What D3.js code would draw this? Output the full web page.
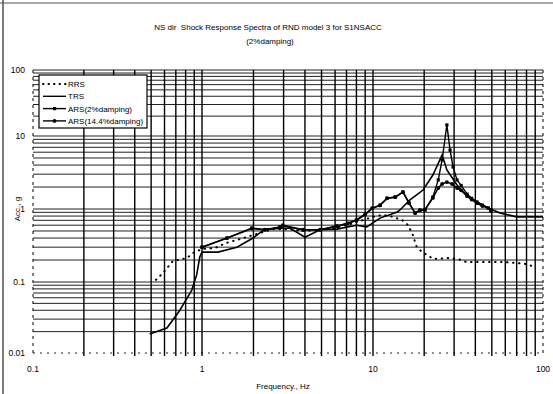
<!DOCTYPE html>
<html>
<head>
<meta charset="utf-8">
<script src="https://cdn.jsdelivr.net/npm/d3@7"></script>
<style>
  html, body { margin: 0; padding: 0; background: #fff; }
  svg { display: block; font-family: "Liberation Sans", Arial, sans-serif; }
  text { white-space: pre; }
</style>
</head>
<body>
<div id="chart"></div>
<script>
// values
const rrsFreq = [0.534, 0.588, 0.673, 0.815, 0.885, 1.0, 1.19, 1.38, 1.6, 1.83, 2.18, 2.6, 3.2, 4, 5, 6, 7, 8, 9, 10, 11.3, 12.6, 14.8, 16.1, 17.4, 17.8, 19.4, 20.8, 22.6, 27.6, 31.7, 35.3, 45.3, 57, 68.4, 78.6, 90];
const rrsAcc = [0.107, 0.133, 0.194, 0.213, 0.25, 0.283, 0.292, 0.342, 0.376, 0.414, 0.47, 0.53, 0.53, 0.5, 0.52, 0.55, 0.6, 0.66, 0.72, 0.78, 0.83, 0.8, 0.71, 0.6, 0.41, 0.32, 0.257, 0.235, 0.207, 0.213, 0.207, 0.188, 0.188, 0.188, 0.183, 0.177, 0.16];

const trsFreq = [0.49, 0.62, 0.74, 0.87, 0.93, 0.97, 1.0, 1.24, 1.6, 1.99, 2.33, 3.27, 4.0, 4.9, 6.16, 8.0, 9.2, 11.0, 13.9, 14.4, 16.5, 19.7, 22.5, 25.5, 27.2, 31.2, 35.8, 40.9, 47.6, 55.8, 70, 87, 100];
const trsAcc = [0.0185, 0.0225, 0.04, 0.077, 0.125, 0.22, 0.257, 0.257, 0.3, 0.4, 0.53, 0.55, 0.41, 0.52, 0.53, 0.6, 0.57, 0.75, 0.91, 0.97, 1.33, 1.82, 2.92, 5.5, 3.42, 2.13, 1.5, 1.25, 1.03, 0.88, 0.78, 0.78, 0.78];

const ars2Freq = [1.0, 1.4, 1.96, 2.33, 2.86, 2.97, 3.9, 4.9, 6.16, 7.1, 8.0, 9.0, 9.9, 11.0, 12.1, 13.5, 15.0, 16.3, 17.7, 18.9, 20.2, 22.5, 24.2, 25.5, 27.2, 28.4, 29.6, 31.2, 33, 35.8, 38, 40.9, 44, 47.6, 49.4];
const ars2Acc = [0.3, 0.4, 0.55, 0.52, 0.57, 0.6, 0.52, 0.52, 0.585, 0.64, 0.71, 0.85, 1.03, 1.13, 1.41, 1.46, 1.71, 1.21, 0.88, 0.97, 0.97, 1.46, 2.5, 4.7, 14.7, 6.4, 3.76, 2.5, 2.1, 1.6, 1.4, 1.25, 1.13, 1.03, 0.97];

const ars14Freq = [1.0, 1.4, 1.96, 2.33, 2.86, 2.97, 3.9, 4.9, 6.16, 7.1, 8.0, 9.0, 9.9, 11.0, 12.1, 13.5, 15.0, 16.3, 17.7, 18.9, 20.2, 22.5, 24.2, 25.5, 27.2, 29.2, 31.2, 33, 35.8, 38, 40.9, 44, 47.6, 49.4];
const ars14Acc = [0.3, 0.4, 0.54, 0.52, 0.56, 0.59, 0.52, 0.52, 0.58, 0.63, 0.7, 0.84, 1.02, 1.12, 1.4, 1.45, 1.7, 1.2, 0.88, 0.96, 0.97, 1.42, 1.94, 2.2, 2.34, 2.2, 1.94, 1.8, 1.5, 1.35, 1.2, 1.1, 1.03, 0.94];

const xTicks = [0.1, 1, 10, 100];
const xTickLabels = ['0.1', '1', '10', '100'];
const yTicks = [0.01, 0.1, 1, 10, 100];
const yTickLabels = ['0.01', '0.1', '1', '10', '100'];
const legendNames = ['RRS', 'TRS', 'ARS(2%damping)', 'ARS(14.4%damping)'];

const W = 553, H = 394;

const svg = d3.select('#chart').append('svg')
  .attr('width', W)
  .attr('height', H);

// the scan is not quite even, so the decades get their own lengths
const x = d3.scaleLog().domain([0.1, 1, 10, 100]).range([33, 202, 373, 543]);
const y = d3.scaleLog().domain([0.01, 0.1, 1, 10, 100]).range([353, 282, 209, 136, 70]);

// page frame
svg.append('line').attr('x1', 3).attr('x2', 3).attr('y1', 0).attr('y2', H)
  .attr('stroke', '#222').attr('stroke-width', 1.2);
svg.append('line').attr('x1', 0).attr('x2', W).attr('y1', 3).attr('y2', 3)
  .attr('stroke', '#555').attr('stroke-width', 1);

// grid
const xGrid = [];
const yGrid = [];
for (let d = -1; d <= 1; d++) for (let k = 1; k <= 9; k++) xGrid.push(k * Math.pow(10, d));
xGrid.push(100);
for (let d = -2; d <= 1; d++) for (let k = 1; k <= 9; k++) yGrid.push(k * Math.pow(10, d));
yGrid.push(100);

const grid = svg.append('g').attr('class', 'grid');

grid.selectAll('line.h')
  .data(yGrid)
  .enter()
  .append('line')
  .attr('class', 'h')
  .attr('x1', x(0.1))
  .attr('x2', x(100))
  .attr('y1', d => y(d))
  .attr('y2', d => y(d))
  .attr('stroke', '#222')
  .attr('stroke-width', d => (d === 0.01 ? 1.2 : 1))
  .attr('stroke-dasharray', d => (d === 0.01 ? '2,5' : null));

grid.selectAll('line.v')
  .data(xGrid)
  .enter()
  .append('line')
  .attr('class', 'v')
  .attr('x1', d => x(d))
  .attr('x2', d => x(d))
  .attr('y1', y(100))
  .attr('y2', y(0.01) + 3)
  .attr('stroke', '#000')
  .attr('stroke-width', d => (d === 0.1 || d === 100 ? 1 : 1.4))
  .attr('stroke-dasharray', d => (d === 0.1 || d === 100 ? '3,4' : null));

// axis labels
svg.append('g')
  .selectAll('text')
  .data(yTicks)
  .enter()
  .append('text')
  .attr('x', 25)
  .attr('y', d => y(d) + 3)
  .attr('text-anchor', 'end')
  .attr('font-size', 8.5)
  .text((d, i) => yTickLabels[i]);

svg.append('g')
  .selectAll('text')
  .data(xTicks)
  .enter()
  .append('text')
  .attr('x', d => x(d))
  .attr('y', 372)
  .attr('text-anchor', 'middle')
  .attr('font-size', 8.5)
  .text((d, i) => xTickLabels[i]);

svg.append('text')
  .attr('x', 283)
  .attr('y', 389)
  .attr('text-anchor', 'middle')
  .attr('font-size', 8)
  .text('Frequency., Hz');

svg.append('text')
  .attr('transform', 'translate(20,209) rotate(-90)')
  .attr('text-anchor', 'middle')
  .attr('font-size', 8)
  .text('Acc., g');

// title
svg.append('text')
  .attr('x', 268)
  .attr('y', 30)
  .attr('text-anchor', 'middle')
  .attr('font-size', 8)
  .text('NS dir  Shock Response Spectra of RND model 3 for S1NSACC');
svg.append('text')
  .attr('x', 270)
  .attr('y', 44)
  .attr('text-anchor', 'middle')
  .attr('font-size', 8)
  .text('(2%damping)');

// series
const line = d3.line()
  .x(d => x(d[0]))
  .y(d => y(d[1]));

const rrs = d3.zip(rrsFreq, rrsAcc);
const trs = d3.zip(trsFreq, trsAcc);
const ars2 = d3.zip(ars2Freq, ars2Acc);
const ars14 = d3.zip(ars14Freq, ars14Acc);

svg.append('path')
  .datum(rrs)
  .attr('d', line)
  .attr('fill', 'none')
  .attr('stroke', '#000')
  .attr('stroke-width', 2)
  .attr('stroke-linecap', 'round')
  .attr('stroke-dasharray', '0.5,5.5');

svg.append('path')
  .datum(trs)
  .attr('d', line)
  .attr('fill', 'none')
  .attr('stroke', '#000')
  .attr('stroke-width', 1.6);

svg.append('path')
  .datum(ars14)
  .attr('d', line)
  .attr('fill', 'none')
  .attr('stroke', '#000')
  .attr('stroke-width', 1.6);

svg.append('g')
  .selectAll('circle')
  .data(ars14)
  .enter()
  .append('circle')
  .attr('cx', d => x(d[0]))
  .attr('cy', d => y(d[1]))
  .attr('r', 1.9)
  .attr('fill', '#000');

svg.append('path')
  .datum(ars2)
  .attr('d', line)
  .attr('fill', 'none')
  .attr('stroke', '#000')
  .attr('stroke-width', 1.4);

svg.append('g')
  .selectAll('rect')
  .data(ars2)
  .enter()
  .append('rect')
  .attr('x', d => x(d[0]) - 1.6)
  .attr('y', d => y(d[1]) - 1.6)
  .attr('width', 3.2)
  .attr('height', 3.2)
  .attr('fill', '#000');

// legend
const legend = svg.append('g').attr('transform', 'translate(39,75)');
legend.append('rect')
  .attr('width', 108)
  .attr('height', 53)
  .attr('fill', '#fff')
  .attr('stroke', '#000')
  .attr('stroke-width', 1.2);

const rows = legend.selectAll('g.row')
  .data(legendNames)
  .enter()
  .append('g')
  .attr('class', 'row')
  .attr('transform', (d, i) => `translate(0, ${9 + i * 12.3})`);

rows.append('line')
  .attr('x1', 4)
  .attr('x2', 27)
  .attr('stroke', '#000')
  .attr('stroke-width', (d, i) => (i === 0 ? 2 : 1.4))
  .attr('stroke-linecap', (d, i) => (i === 0 ? 'round' : 'butt'))
  .attr('stroke-dasharray', (d, i) => (i === 0 ? '0.5,5' : null));

rows.filter((d, i) => i === 2)
  .append('rect')
  .attr('x', 14).attr('y', -1.6).attr('width', 3.2).attr('height', 3.2)
  .attr('fill', '#000');
rows.filter((d, i) => i === 3)
  .append('circle')
  .attr('cx', 15.5).attr('r', 1.9)
  .attr('fill', '#000');

rows.append('text')
  .attr('x', 29)
  .attr('y', 3)
  .attr('font-size', 8)
  .text(d => d);
</script>
</body>
</html>
